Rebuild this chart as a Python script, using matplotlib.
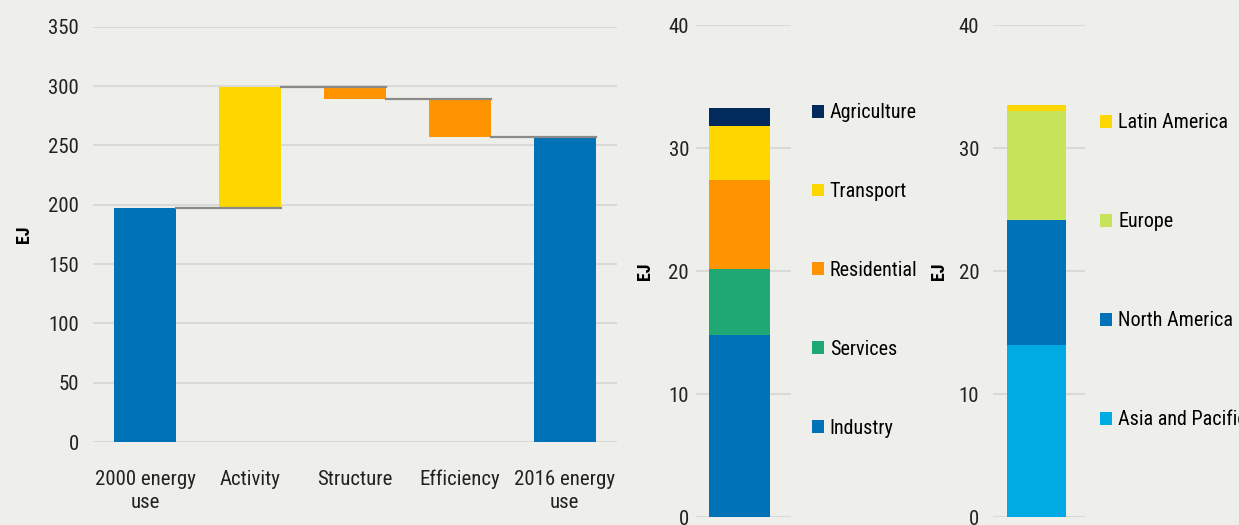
import matplotlib
matplotlib.use("Agg")
import matplotlib.pyplot as plt

plt.rcParams.update({
    "font.family": ["Roboto Condensed", "Open Sans Condensed", "DejaVu Sans"],
    "font.stretch": "condensed",
    "font.size": 13,
    "axes.facecolor": "#eeeeea",
    "figure.facecolor": "#eeeeea",
})

BG = "#eeeeea"
GRID = "#d9d9d6"
BLUE = "#0072b8"
YELLOW = "#ffd700"
ORANGE = "#ff9300"

# decomposition 2000 -> 2016 (EJ)
steps = ["2000 energy\nuse", "Activity", "Structure", "Efficiency", "2016 energy\nuse"]
start_use = 197
deltas = [102, -10, -32]
end_use = 257

# sector split (EJ)
sectors = ["Industry", "Services", "Residential", "Transport", "Agriculture"]
sector_vals = [14.8, 5.4, 7.2, 4.4, 1.45]
sector_cols = [BLUE, "#1fa774", ORANGE, YELLOW, "#002b5c"]

# regional split (EJ)
regions = ["Asia and Pacific", "North America", "Europe", "Latin America"]
region_vals = [14.0, 10.15, 8.85, 0.5]
region_cols = ["#00aae2", BLUE, "#c7e35a", YELLOW]

fig = plt.figure(figsize=(12.39, 5.25), dpi=100)


def _clean(ax, ymax, step):
    ax.set_ylim(0, ymax)
    ax.set_yticks(range(0, ymax + 1, step))
    ax.grid(axis="y", color=GRID, lw=1.5)
    ax.set_axisbelow(True)
    for s in ax.spines.values():
        s.set_visible(False)
    ax.tick_params(length=0, labelsize=15, colors="#222222")


# --- waterfall ---
ax = fig.add_axes([0.075, 0.158, 0.423, 0.791])
_clean(ax, 350, 50)
w = 0.59
x = list(range(len(steps)))
ax.bar(0, start_use, width=w, color=BLUE)
level = start_use
levels = [start_use]
for i, d in enumerate(deltas, start=1):
    lo = level if d > 0 else level + d
    ax.bar(i, abs(d), bottom=lo, width=w, color=YELLOW if d > 0 else ORANGE)
    level += d
    levels.append(level)
ax.bar(4, end_use, width=w, color=BLUE)
for i, lv in enumerate(levels):
    ax.plot([i + w / 2, i + 1 + w / 2], [lv, lv], color="#8a8a8a", lw=1.6, zorder=3)
ax.set_xlim(-0.5, 4.5)
ax.set_xticks(x)
ax.set_xticklabels(steps, fontsize=15, linespacing=1.3)
ax.tick_params(axis="x", pad=20)
ax.tick_params(axis="y", pad=10)
ax.set_ylabel("EJ", fontsize=13, fontweight="bold")
ax.yaxis.set_label_coords(-0.115, 0.5)
ax.grid(axis="x", visible=False)

# --- stacked bars ---
def stacked(rect, vals, cols, labels, lx, ly, spacing, xc):
    a = fig.add_axes(rect)
    _clean(a, 40, 10)
    a.set_xticks([])
    bottom = 0
    handles = []
    for v, c, lab in zip(vals, cols, labels):
        handles.append(a.bar(0, v, bottom=bottom, width=0.64, color=c, label=lab))
        bottom += v
    a.set_xlim(-xc, 1 - xc)
    a.set_ylabel("EJ", fontsize=13, fontweight="bold")
    a.legend(handles=handles[::-1], loc="center left",
             bbox_to_anchor=(lx, ly), bbox_transform=fig.transFigure,
             frameon=False, fontsize=14.5, labelspacing=spacing,
             handlelength=0.6, handleheight=0.6, handletextpad=0.3,
             borderaxespad=0, borderpad=0)
    return a


a2 = stacked([0.5617, 0.015, 0.0767, 0.937], sector_vals, sector_cols, sectors,
             0.655, 0.485, 2.97, 0.458)
a2.tick_params(axis="y", pad=5)
a2.yaxis.set_label_coords(-0.44, 0.5)

a3 = stacked([0.8015, 0.015, 0.0742, 0.937], region_vals, region_cols, regions,
             0.888, 0.483, 3.97, 0.473)
a3.tick_params(axis="y", pad=10)
a3.yaxis.set_label_coords(-0.49, 0.5)

fig.savefig("out.png", dpi=100, facecolor=BG)
